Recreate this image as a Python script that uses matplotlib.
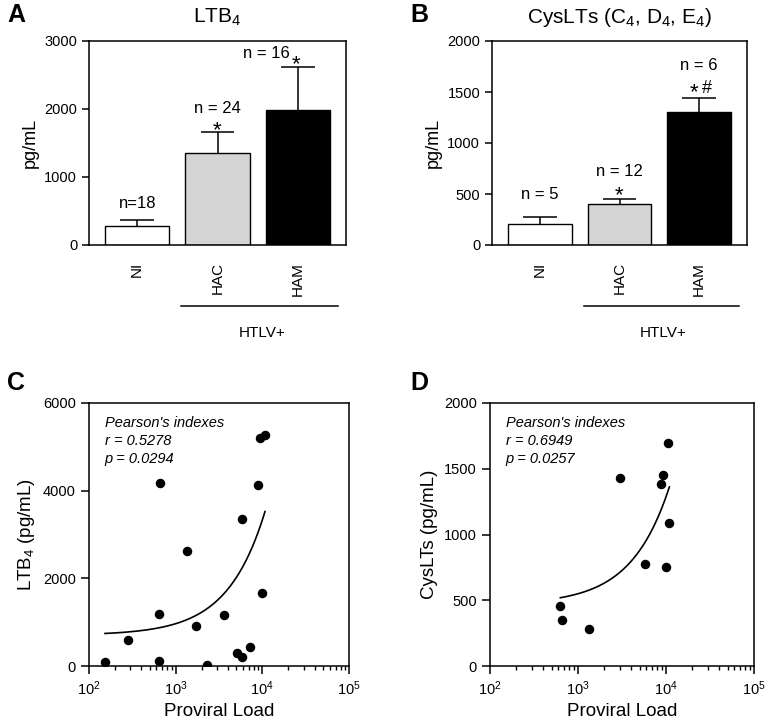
import numpy as np
import matplotlib
matplotlib.use('Agg')
import matplotlib.pyplot as plt
from matplotlib.ticker import LogLocator, NullFormatter

plt.rcParams['font.family'] = ['Liberation Sans', 'DejaVu Sans']
plt.rcParams['mathtext.default'] = 'regular'
plt.rcParams['axes.linewidth'] = 1.1

# Bar data
groups = ['NI', 'HAC', 'HAM']
bar_colors = ['white', '#d4d4d4', 'black']
ltb4_mean = [280, 1350, 1990]
ltb4_sem = [85, 315, 635]
ltb4_n = ['n=18', 'n = 24', 'n = 16']
ltb4_sig = ['', '*', '*']
cys_mean = [210, 402, 1307]
cys_sem = [65, 50, 135]
cys_n = ['n = 5', 'n = 12', 'n = 6']
cys_sig = ['', '*', '*', '#']

# Scatter data (proviral load vs mediator)
ltb4_load = [153, 279, 637, 637, 659, 1339, 1730, 2280, 3613, 5150, 5820, 5780, 7150, 8830, 9400, 10730, 10000]
ltb4_val = [80, 592, 114, 1192, 4185, 2620, 911, 23, 1170, 289, 213, 3349, 433, 4132, 5210, 5263, 1663]
cys_load = [630, 664, 1334, 2972, 5770, 8770, 9330, 9910, 10640, 10920]
cys_val = [456, 352, 284, 1430, 772, 1387, 1451, 754, 1694, 1086]

fig = plt.figure(figsize=(7.68, 7.2), dpi=100)
W, H = 768.0, 720.0

def px_axes(l, t, r, b):
    return fig.add_axes([l / W, 1 - b / H, (r - l) / W, (b - t) / H])

def note(ax, s, x, y, dx, dy, size=12, ha='center', va='center'):
    ax.annotate(s, (x, y), xytext=(dx, dy), textcoords='offset points',
                ha=ha, va=va, fontsize=size)

def bar_panel(ax, means, sems, ymax, ystep, title):
    x = np.arange(len(groups))
    tops = np.array(means) + np.array(sems)
    # upper error bars only, drawn behind the bars
    ax.vlines(x, means, tops, color='black', lw=1.1, zorder=1)
    ax.hlines(tops, x - 0.21, x + 0.21, color='black', lw=1.1, zorder=1)
    ax.bar(x, means, width=0.8, color=bar_colors, edgecolor='black', linewidth=1.0, zorder=2)
    ax.set_xlim(-0.6, 2.6)
    ax.set_ylim(0, ymax)
    ax.set_yticks(np.arange(0, ymax + 1, ystep))
    ax.set_xticks(x)
    ax.set_xticklabels(groups, rotation=90, fontsize=11)
    ax.tick_params(axis='x', length=0, pad=12)
    ax.tick_params(axis='y', direction='out', length=5, width=1.1, labelsize=10.5)
    ax.set_ylabel('pg/mL', fontsize=13)
    ax.set_title(title, fontsize=15, pad=13)
    ax.plot([0.55, 2.5], [-0.297, -0.297], color='black', lw=1.1,
            transform=ax.get_xaxis_transform(), clip_on=False)
    ax.text(1.55, -0.43, 'HTLV+', transform=ax.get_xaxis_transform(),
            ha='center', va='center', fontsize=11)
    return tops

# Panel A
axA = px_axes(89, 41, 346, 245)
tops = bar_panel(axA, ltb4_mean, ltb4_sem, 3000, 1000, 'LTB$_4$')
note(axA, ltb4_n[0], 0, tops[0], 0, 12)
note(axA, ltb4_sig[1], 1, tops[1], 0, -3.5, size=16, va='baseline')
note(axA, ltb4_n[1], 1, tops[1], 0, 16.5)
note(axA, ltb4_n[2], 2, tops[2], -6, 9.5, ha='right')
note(axA, ltb4_sig[2], 2, tops[2], -1.5, -2.5, size=16, va='baseline')

# Panel B
axB = px_axes(492, 41, 747, 245)
tops = bar_panel(axB, cys_mean, cys_sem, 2000, 500, 'CysLTs (C$_4$, D$_4$, E$_4$)')
note(axB, cys_n[0], 0, tops[0], 0, 16)
note(axB, cys_sig[1], 1, tops[1], 0, -1.5, size=16, va='baseline')
note(axB, cys_n[1], 1, tops[1], 0, 20)
note(axB, cys_sig[2], 2, tops[2], -4, -0.5, size=16, va='baseline')
note(axB, cys_sig[3], 2, tops[2], 5.5, 3.5, size=13, va='baseline')
note(axB, cys_n[2], 2, tops[2], 0, 23)

def scatter_panel(ax, load, val, ymax, ystep, ylabel, r, p):
    ax.scatter(load, val, s=34, color='black', zorder=3)
    k, b = np.polyfit(load, val, 1)
    xf = np.linspace(min(load), max(load), 200)
    ax.plot(xf, k * xf + b, color='black', lw=1.2)
    ax.set_xscale('log')
    ax.set_xlim(1e2, 1e5)
    ax.set_ylim(0, ymax)
    ax.set_yticks(np.arange(0, ymax + 1, ystep))
    ax.xaxis.set_minor_locator(LogLocator(base=10, subs=np.arange(2, 10)))
    ax.xaxis.set_minor_formatter(NullFormatter())
    ax.tick_params(axis='both', which='major', direction='out', length=6, width=1.1, labelsize=10.5)
    ax.tick_params(axis='x', which='minor', direction='out', length=3, width=1.0)
    ax.set_xlabel('Proviral Load', fontsize=13.5)
    ax.set_ylabel(ylabel, fontsize=13.5)
    txt = "Pearson's indexes\nr = %s\np = %s" % (r, p)
    ax.text(0.06, 0.95, txt, transform=ax.transAxes, ha='left', va='top',
            fontsize=10.5, style='italic', linespacing=1.35)

axC = px_axes(89, 403, 349, 666)
scatter_panel(axC, ltb4_load, ltb4_val, 6000, 2000, 'LTB$_4$ (pg/mL)', '0.5278', '0.0294')
axD = px_axes(490, 403, 754, 666)
scatter_panel(axD, cys_load, cys_val, 2000, 500, 'CysLTs (pg/mL)', '0.6949', '0.0257')

for lab, xp, yp in [('A', 16, 15), ('B', 419, 15), ('C', 16, 383), ('D', 419, 383)]:
    fig.text(xp / W, 1 - yp / H, lab, fontsize=18, fontweight='bold', ha='center', va='center')

fig.savefig('out.png', dpi=100)
